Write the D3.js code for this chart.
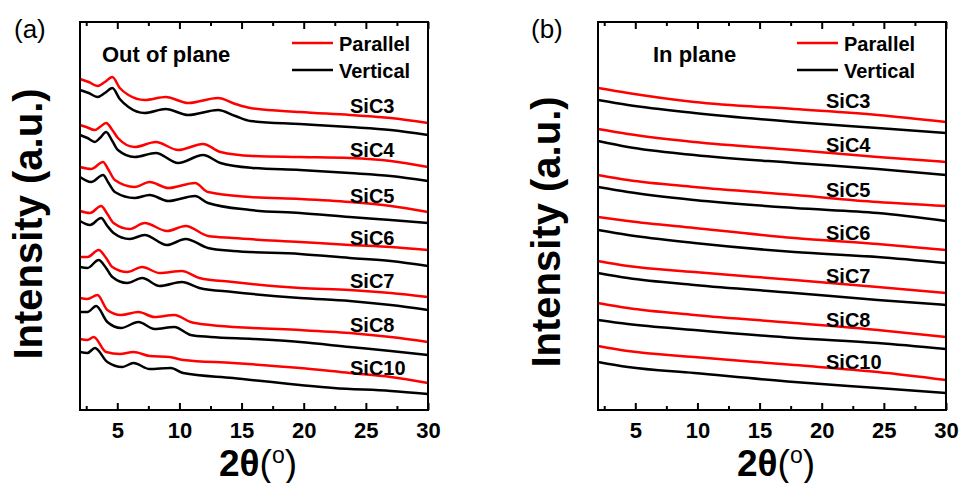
<!DOCTYPE html>
<html>
<head>
<meta charset="utf-8">
<script src="https://cdn.jsdelivr.net/npm/d3@7"></script>
<style>
  body { margin: 0; background: #fff; }
  text { font-family: Arial, "Liberation Sans", sans-serif; fill: #000; }
</style>
</head>
<body>
<div id="chart"></div>
<script>
// sample names, top to bottom
var samples = ["SiC3", "SiC4", "SiC5", "SiC6", "SiC7", "SiC8", "SiC10"];

// x ticks (2theta, degrees)
var majorTicks = [5, 10, 15, 20, 25, 30];
var minorTicks = [2.5, 7.5, 12.5, 17.5, 22.5, 27.5];

// (a) out of plane, [2theta, intensity a.u. incl. stacking offset]
var oopParallel = [
  [[2,331],[2.7,328],[3.4,324],[4.0,328],[4.6,333],[5.2,322],[5.9,315],[7.2,310],[8.9,313],[10.7,307],[13.1,312],[14.5,306],[15.7,302],[19.7,298],[23.7,295],[27,292],[30,287]],
  [[2,285],[2.5,283],[3.2,280],[3.6,283],[4.1,287],[4.6,280],[5.05,272],[6.4,263],[8.1,268],[9.9,260],[11.9,266],[13.3,258],[15.9,254],[19.7,253],[23.7,252],[27,249],[30,243]],
  [[2,243],[2.9,241],[3.85,248],[4.3,240],[4.8,230],[6.4,223],[7.6,228],[9.1,222],[11.25,227],[12.3,218],[15.7,213],[19.7,211],[23.7,208],[27,204],[30,198]],
  [[2,199],[2.8,197],[3.7,204],[4.2,196],[4.7,187],[6.0,181],[7.2,187],[9.0,179],[10.5,184],[12.3,174],[14.3,172],[19.7,168],[23.7,165],[27,163],[30,160]],
  [[2,153],[2.6,153],[3.5,160],[4.1,152],[4.6,143],[5.8,138],[7.0,143],[8.4,137],[10.2,139],[11.6,132],[14.3,128],[19.7,122],[23.7,120],[27,117],[30,113]],
  [[2,112],[2.6,111],[3.4,115],[4.2,100],[5.3,95],[6.7,98],[8.0,93],[9.6,95],[10.9,88],[12.5,85],[15.9,82],[19.7,80],[23.7,77],[27,73],[30,68]],
  [[2,71],[2.6,70],[3.1,73],[4.1,58],[5.2,56],[6.3,58],[7.6,54],[9.2,53],[10.3,50],[14.3,47],[19.7,42],[23.7,37],[27,33],[30,27]]
];
var oopVertical = [
  [[2,320],[2.7,317],[3.4,313],[4.0,317],[4.6,322],[5.2,311],[5.9,303],[7.2,297],[8.9,301],[10.7,295],[13.1,300],[14.5,294],[15.7,289],[19.7,286],[23.7,283],[27,280],[30,275]],
  [[2,275],[2.6,272],[3.2,268],[3.6,272],[4.1,278],[4.6,269],[5.05,260],[6.4,253],[8.1,257],[9.9,247],[11.9,255],[13.3,247],[15.9,242],[19.7,240],[23.7,237],[27,234],[30,229]],
  [[2,233],[2.9,228],[3.85,235],[4.3,227],[4.8,218],[6.4,212],[7.6,215],[9.1,209],[11.25,214],[12.3,207],[15.7,200],[19.7,197],[23.7,193],[27,190],[30,187]],
  [[2,189],[2.8,185],[3.7,192],[4.2,184],[4.7,177],[6.0,171],[7.2,175],[9.0,165],[10.5,171],[12.3,162],[14.3,159],[19.7,156],[23.7,152],[27,149],[30,144]],
  [[2,143],[2.6,142],[3.5,150],[4.1,142],[4.6,133],[5.8,127],[7.0,132],[8.4,124],[10.2,128],[11.6,122],[14.3,118],[19.7,112],[23.7,109],[27,105],[30,100]],
  [[2,98],[2.6,98],[3.3,104],[4.2,88],[5.3,82],[6.7,88],[8.0,81],[9.6,83],[10.9,75],[12.5,73],[15.9,71],[19.7,68],[23.7,63],[27,59],[30,55]],
  [[2,58],[2.6,57],[3.2,62],[4.2,48],[5.4,43],[6.3,47],[7.6,41],[9.3,42],[10.3,37],[14.3,32],[19.7,25],[22.4,22],[27,19],[30,16]]
];

// (b) in plane, shared 2theta samples
var ipTheta = [2, 4.4, 9.75, 17.8, 24.5, 30];
var ipParallel = [
  [322,317,308,301,295,288],
  [281,276,268,260,253,248],
  [235,230,223,215,208,204],
  [193,189,182,172,166,160],
  [149,144,138,130,123,117],
  [107,102,95,87,80,73],
  [64,59,53,45,38,30]
];
var ipVertical = [
  [310,305,297,288,282,277],
  [269,263,255,247,241,235],
  [223,218,210,202,197,189],
  [180,175,167,158,153,147],
  [137,132,125,117,110,105],
  [90,86,80,72,67,61],
  [48,43,37,28,22,17]
];

var width = 960, height = 483;
// NB: "top" is taken by window.top, so use other names
var plotTop = 22, plotBottom = 410;

var svg = d3.select("#chart").append("svg")
  .attr("width", width)
  .attr("height", height);

// label baselines (px) for sample names in each panel
var labelYa = [113, 157, 203, 245, 288, 332, 375];
var labelYb = [108, 152, 197, 240, 283, 327, 369];

function panel(opt) {
  var x = d3.scaleLinear().domain([2, 30]).range([opt.left, opt.right]);
  var y = d3.scaleLinear().domain([0, 388]).range([plotBottom, plotTop]);

  var line = d3.line()
    .x(function(d) { return x(d[0]); })
    .y(function(d) { return y(d[1]); })
    .curve(d3.curveMonotoneX);

  var g = svg.append("g");

  // curves: black under red
  opt.vertical.forEach(function(s) {
    g.append("path").attr("d", line(s))
      .attr("fill", "none").attr("stroke", "#000").attr("stroke-width", 2.5)
      .attr("stroke-linejoin", "round");
  });
  opt.parallel.forEach(function(s) {
    g.append("path").attr("d", line(s))
      .attr("fill", "none").attr("stroke", "#ff0000").attr("stroke-width", 2.5)
      .attr("stroke-linejoin", "round");
  });

  // sample labels
  samples.forEach(function(name, i) {
    g.append("text")
      .attr("x", opt.labelX)
      .attr("y", opt.labelY[i])
      .attr("font-size", 20)
      .attr("font-weight", "bold")
      .text(name);
  });

  // bottom axis, inward ticks
  var xAxis = d3.axisBottom(x).tickValues(majorTicks).tickSize(-7).tickSizeOuter(0);
  var ax = g.append("g").attr("transform", "translate(0," + plotBottom + ")").call(xAxis);
  ax.select(".domain").remove();
  ax.selectAll("line").attr("stroke-width", 2);
  ax.selectAll("text")
    .attr("y", 28).attr("dy", 0)
    .attr("font-size", 22).attr("font-weight", "bold")
    .attr("font-family", "Arial, 'Liberation Sans', sans-serif");

  var axMinor = g.append("g").attr("transform", "translate(0," + plotBottom + ")")
    .call(d3.axisBottom(x).tickValues(minorTicks).tickSize(-4).tickSizeOuter(0).tickFormat(""));
  axMinor.select(".domain").remove();
  axMinor.selectAll("line").attr("stroke-width", 2);

  // top axis mirrors ticks
  var axTop = g.append("g").attr("transform", "translate(0," + plotTop + ")")
    .call(d3.axisTop(x).tickValues(majorTicks).tickSize(-7).tickSizeOuter(0).tickFormat(""));
  axTop.select(".domain").remove();
  axTop.selectAll("line").attr("stroke-width", 2);
  var axTopMinor = g.append("g").attr("transform", "translate(0," + plotTop + ")")
    .call(d3.axisTop(x).tickValues(minorTicks).tickSize(-4).tickSizeOuter(0).tickFormat(""));
  axTopMinor.select(".domain").remove();
  axTopMinor.selectAll("line").attr("stroke-width", 2);

  // frame
  g.append("rect")
    .attr("x", opt.left).attr("y", plotTop)
    .attr("width", opt.right - opt.left).attr("height", plotBottom - plotTop)
    .attr("fill", "none").attr("stroke", "#000").attr("stroke-width", 2);

  // panel letter
  g.append("text").attr("x", opt.letterX).attr("y", 38)
    .attr("font-size", 26).text(opt.letter);

  // title inside the frame
  g.append("text").attr("x", opt.titleX).attr("y", 62)
    .attr("font-size", 22).attr("font-weight", "bold").text(opt.title);

  // legend
  var lx = opt.legendX;
  [["Parallel", "#ff0000", 43], ["Vertical", "#000", 70]].forEach(function(l) {
    g.append("line").attr("x1", lx).attr("x2", lx + 41)
      .attr("y1", l[2]).attr("y2", l[2])
      .attr("stroke", l[1]).attr("stroke-width", 2.5);
    g.append("text").attr("x", lx + 47).attr("y", l[2] + 8)
      .attr("font-size", 20).attr("font-weight", "bold").text(l[0]);
  });

  // axis titles
  var xt = g.append("text")
    .attr("x", (opt.left + opt.right) / 2 + 4).attr("y", 476)
    .attr("text-anchor", "middle").attr("font-size", 37);
  xt.append("tspan").attr("font-weight", "bold").text("2θ");
  xt.append("tspan").text("(");
  xt.append("tspan").attr("font-size", 23).attr("dy", -13).text("o");
  xt.append("tspan").attr("dy", 13).text(")");

  g.append("text")
    .attr("transform", "translate(" + opt.yTitleX + "," + opt.yTitleY + ") rotate(-90)")
    .attr("text-anchor", "middle")
    .attr("font-size", 40).attr("font-weight", "bold")
    .text("Intensity (a.u.)");
}

panel({
  left: 80, right: 428,
  parallel: oopParallel, vertical: oopVertical,
  labelX: 350, labelY: labelYa,
  letter: "(a)", letterX: 14,
  title: "Out of plane", titleX: 102,
  legendX: 292,
  yTitleX: 42, yTitleY: 224
});

panel({
  left: 598, right: 946,
  parallel: ipParallel.map(function(s) { return s.map(function(v, i) { return [ipTheta[i], v]; }); }),
  vertical: ipVertical.map(function(s) { return s.map(function(v, i) { return [ipTheta[i], v]; }); }),
  labelX: 826, labelY: labelYb,
  letter: "(b)", letterX: 531,
  title: "In plane", titleX: 653,
  legendX: 797,
  yTitleX: 560, yTitleY: 232
});
</script>
</body>
</html>
